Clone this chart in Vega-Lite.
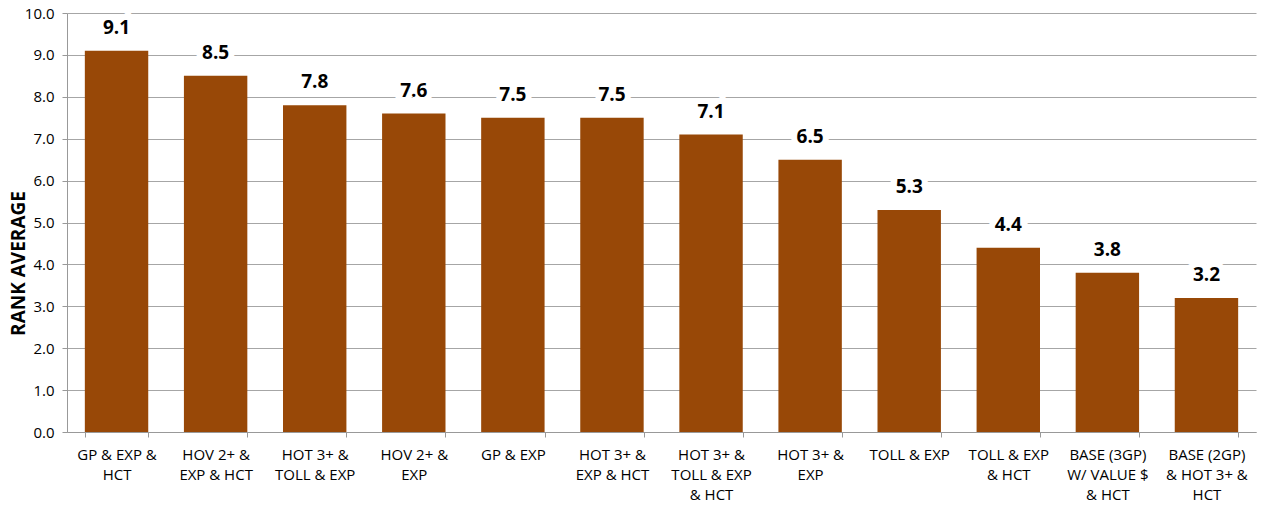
{
  "$schema": "https://vega.github.io/schema/vega-lite/v6.json",
  "autosize": {"type": "none"},
  "width": 1189,
  "height": 419,
  "padding": {"left": 67, "top": 13, "right": 15, "bottom": 77},
  "background": "white",
  "config": {"view": {"stroke": null}, "font": "Open Sans"},
  "data": {"values": [
    {"cat": "GP & EXP &|HCT", "value": 9.1},
    {"cat": "HOV 2+ &|EXP & HCT", "value": 8.5},
    {"cat": "HOT 3+ &|TOLL & EXP", "value": 7.8},
    {"cat": "HOV 2+ &|EXP", "value": 7.6},
    {"cat": "GP & EXP", "value": 7.5},
    {"cat": "HOT 3+ &|EXP & HCT", "value": 7.5},
    {"cat": "HOT 3+ &|TOLL & EXP|& HCT", "value": 7.1},
    {"cat": "HOT 3+ &|EXP", "value": 6.5},
    {"cat": "TOLL & EXP", "value": 5.3},
    {"cat": "TOLL & EXP|& HCT", "value": 4.4},
    {"cat": "BASE (3GP)|W/ VALUE $|& HCT", "value": 3.8},
    {"cat": "BASE (2GP)|& HOT 3+ &|HCT", "value": 3.2}
  ]},
  "encoding": {
    "x": {
      "field": "cat", "type": "nominal", "sort": null,
      "scale": {"paddingInner": 0.36, "paddingOuter": 0.18},
      "axis": {
        "title": null, "labelAngle": 0, "labelExpr": "split(datum.label, '|')",
        "labelFontSize": 15, "labelColor": "#000000", "labelLineHeight": 20,
        "labelPadding": 10, "labelBaseline": "top",
        "domainColor": "#999999", "tickColor": "#999999", "tickSize": 5,
        "tickBand": "extent", "grid": false, "labelLimit": 200
      }
    },
    "y": {
      "field": "value", "type": "quantitative",
      "scale": {"domain": [0, 10]},
      "axis": {
        "title": "RANK AVERAGE", "titleFontSize": 19, "titleFontWeight": "bold",
        "titleColor": "#000000", "titleX": -49, "titleY": 250, "titleBaseline": "middle",
        "values": [0,1,2,3,4,5,6,7,8,9,10], "format": ".1f",
        "labelFontSize": 15, "labelColor": "#000000", "labelPadding": 8,
        "domainColor": "#999999", "tickColor": "#999999", "tickSize": 5,
        "gridColor": "#a6a6a6", "gridWidth": 1
      }
    }
  },
  "layer": [
    {"mark": {"type": "bar", "color": "#984807"}},
    {"mark": {"type": "text", "fontSize": 19, "fontWeight": "bold", "baseline": "middle", "dy": -23, "stroke": "white", "strokeWidth": 12, "strokeJoin": "miter", "color": "white"},
     "encoding": {"text": {"field": "value", "type": "quantitative", "format": ".1f"}}},
    {"mark": {"type": "text", "fontSize": 19, "fontWeight": "bold", "baseline": "middle", "dy": -23, "color": "#000000"},
     "encoding": {"text": {"field": "value", "type": "quantitative", "format": ".1f"}}}
  ]
}
